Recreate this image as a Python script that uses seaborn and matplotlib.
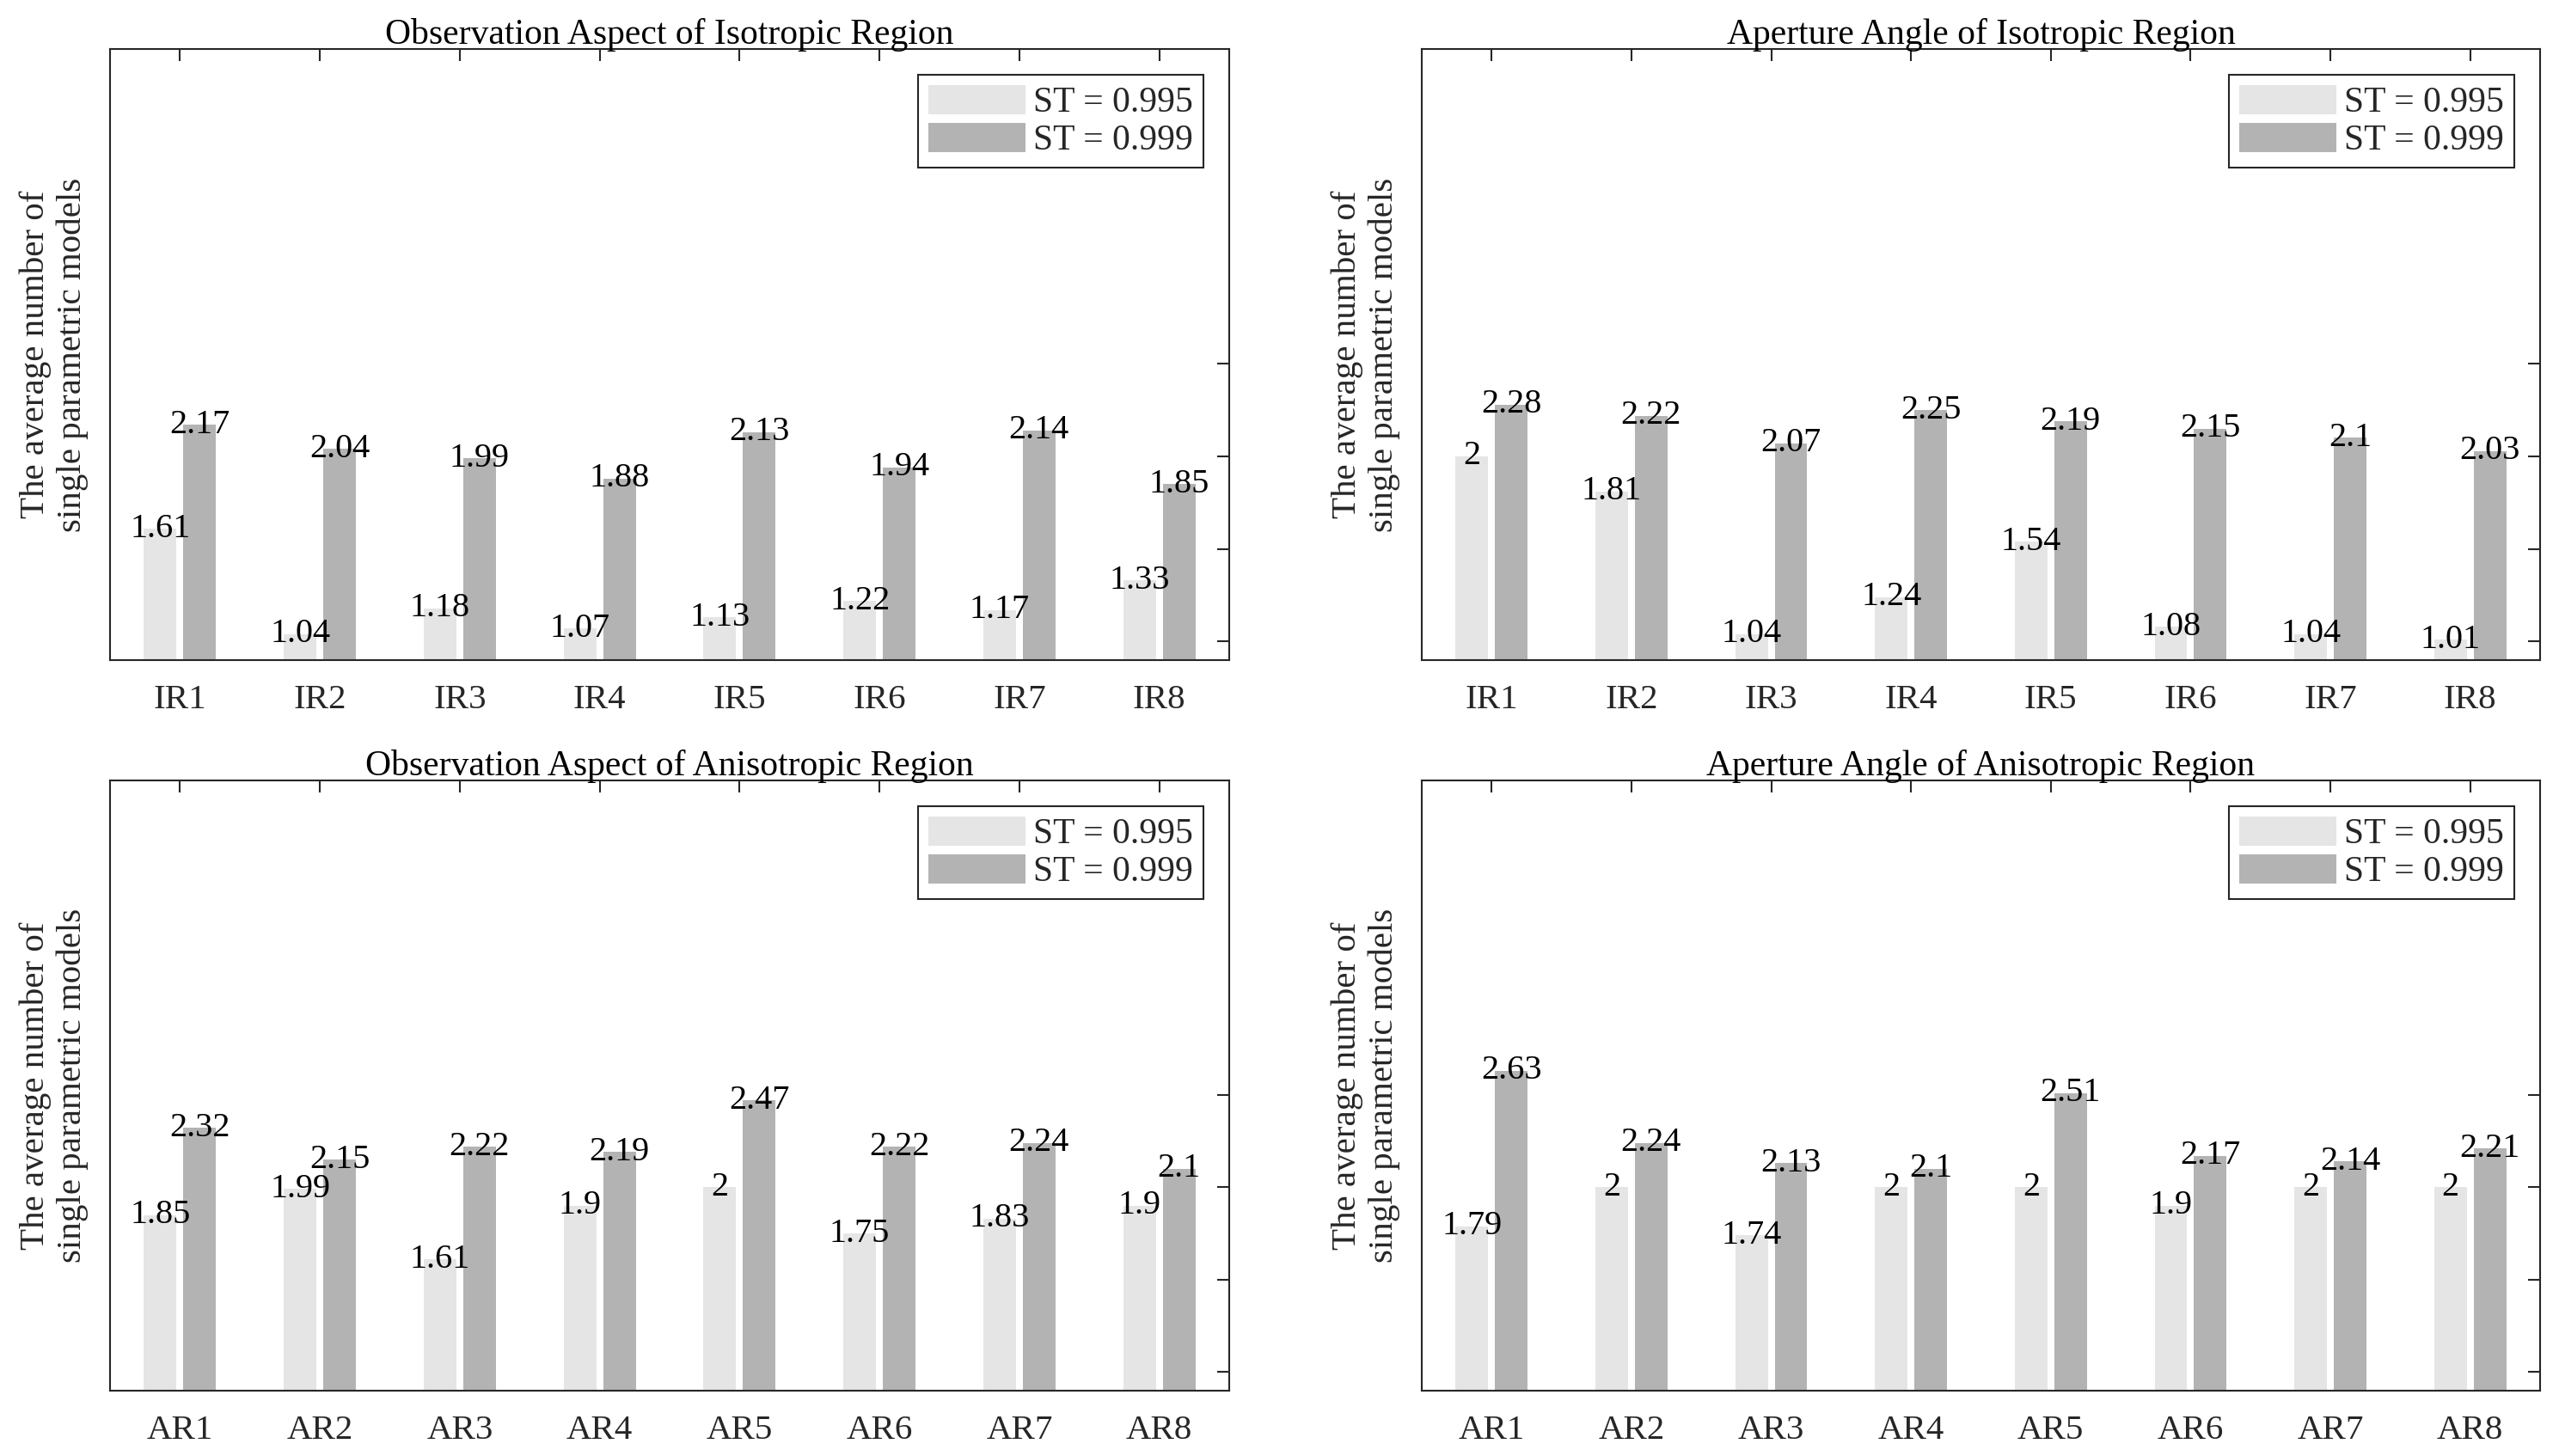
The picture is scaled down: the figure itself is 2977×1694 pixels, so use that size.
import matplotlib
matplotlib.use("Agg")
import matplotlib.pyplot as plt
import seaborn as sns
import pandas as pd

# ===============================
# DATA
# ===============================
ir_labels = ["IR1", "IR2", "IR3", "IR4", "IR5", "IR6", "IR7", "IR8"]
ar_labels = ["AR1", "AR2", "AR3", "AR4", "AR5", "AR6", "AR7", "AR8"]
st_levels = ["ST = 0.995", "ST = 0.999"]

obs_iso_995 = [1.61, 1.04, 1.18, 1.07, 1.13, 1.22, 1.17, 1.33]
obs_iso_999 = [2.17, 2.04, 1.99, 1.88, 2.13, 1.94, 2.14, 1.85]

ape_iso_995 = [2, 1.81, 1.04, 1.24, 1.54, 1.08, 1.04, 1.01]
ape_iso_999 = [2.28, 2.22, 2.07, 2.25, 2.19, 2.15, 2.1, 2.03]

obs_ani_995 = [1.85, 1.99, 1.61, 1.9, 2, 1.75, 1.83, 1.9]
obs_ani_999 = [2.32, 2.15, 2.22, 2.19, 2.47, 2.22, 2.24, 2.1]

ape_ani_995 = [1.79, 2, 1.74, 2, 2, 1.9, 2, 2]
ape_ani_999 = [2.63, 2.24, 2.13, 2.1, 2.51, 2.17, 2.14, 2.21]

y_ticks = [1, 1.5, 2, 2.5]

panels = [
    ("Observation Aspect of Isotropic Region", ir_labels, obs_iso_995, obs_iso_999),
    ("Aperture Angle of Isotropic Region", ir_labels, ape_iso_995, ape_iso_999),
    ("Observation Aspect of Anisotropic Region", ar_labels, obs_ani_995, obs_ani_999),
    ("Aperture Angle of Anisotropic Region", ar_labels, ape_ani_995, ape_ani_999),
]

# ===============================
# STYLE
# ===============================
sns.set_theme(style="white")
plt.rcParams['font.family'] = ['Liberation Serif', 'DejaVu Serif']
plt.rcParams['mathtext.fontset'] = 'stix'

dark_txt = "#262626"
colors = ["#e5e5e5", "#b3b3b3"]

W, H = 2977, 1694
fig = plt.figure(figsize=(W / 100, H / 100), dpi=100)

# axes boxes in pixels: left, top, right, bottom
boxes = [
    (128, 57, 1430, 768),
    (1654, 57, 2955, 768),
    (128, 908, 1430, 1618),
    (1654, 908, 2955, 1618),
]

for (title, cats, v995, v999), (l, t, r, b) in zip(panels, boxes):
    ax = fig.add_axes([l / W, 1 - b / H, (r - l) / W, (b - t) / H])

    df = pd.DataFrame({
        "region": cats * 2,
        "value": v995 + v999,
        "st": [st_levels[0]] * len(cats) + [st_levels[1]] * len(cats),
    })

    sns.barplot(data=df, x="region", y="value", hue="st", hue_order=st_levels,
                palette=colors, saturation=1, width=0.564, gap=0.174,
                errorbar=None, linewidth=0, ax=ax)

    # value labels centred on bar tops
    for cont, vals in zip(ax.containers, [v995, v999]):
        for bar, v in zip(cont, vals):
            ax.text(bar.get_x() + bar.get_width() / 2, bar.get_height(), f"{v:g}",
                    ha="center", va="center", fontsize=29, color="black")

    ax.set_xlim(-0.5, len(cats) - 0.5)
    ax.set_ylim(0.9, 4.2)
    ax.set_yticks(y_ticks)
    ax.set_xlabel("")
    ax.set_ylabel("The average number of\nsingle parametric models",
                  fontsize=29.5, color=dark_txt, labelpad=18)
    ax.set_title(title, fontsize=30, color="black", pad=4)

    ax.tick_params(axis="both", direction="in", length=10, width=1.5,
                   color=dark_txt, top=True, right=True)
    ax.tick_params(axis="x", labelsize=29.5, labelcolor=dark_txt, pad=20)
    ax.tick_params(axis="y", labelleft=False)
    for sp in ax.spines.values():
        sp.set_color(dark_txt)
        sp.set_linewidth(1.5)

    handles, labels = ax.get_legend_handles_labels()
    leg = ax.legend(handles, labels, loc="upper right", fontsize=30,
                    frameon=True, fancybox=False, edgecolor=dark_txt,
                    framealpha=1, borderaxespad=0.72, borderpad=0.28,
                    handlelength=2.73, handleheight=0.9, handletextpad=0.22,
                    labelspacing=0.08)
    leg.get_frame().set_linewidth(1.5)

fig.savefig("out.png", dpi=100)
